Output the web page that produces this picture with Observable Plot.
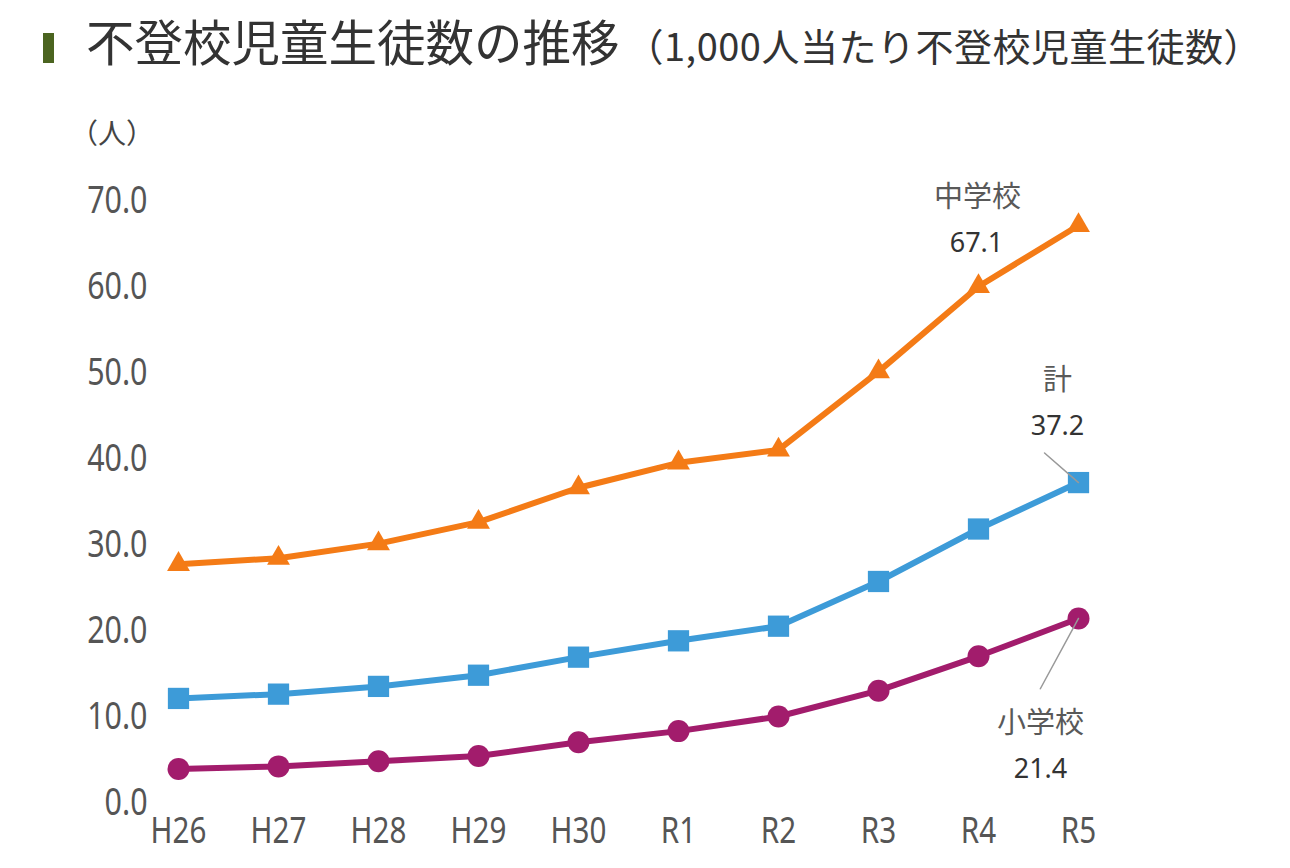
<!DOCTYPE html>
<html>
<head>
<meta charset="utf-8">
<script src="https://cdn.jsdelivr.net/npm/d3@7"></script>
<script src="https://cdn.jsdelivr.net/npm/@observablehq/plot@0.6"></script>
<style>
  html, body { margin: 0; padding: 0; background: #fff; }
  #page { position: relative; width: 1290px; height: 868px; overflow: hidden; font-family: "Noto Sans CJK JP", "Noto Sans", sans-serif; }
  #bar { position: absolute; left: 43px; top: 33px; width: 11px; height: 30px; background: #4b6420; }
  #title { position: absolute; left: 86px; top: 8px; font-size: 48.5px; color: #333; white-space: nowrap; line-height: 64px; }
  #title .sub { font-size: 38px; margin-left: 6px; letter-spacing: 0.5px; }
  #ylab { position: absolute; left: 70px; top: 112px; font-size: 28px; color: #444; }
  #chart { position: absolute; left: 0; top: 90px; }
</style>
</head>
<body>
<div id="page">
  <div id="bar"></div>
  <div id="title">不登校児童生徒数の推移<span class="sub">（1,000人当たり不登校児童生徒数）</span></div>
  <div id="ylab">（人）</div>
  <div id="chart"></div>
</div>
<script>
const years = ["H26","H27","H28","H29","H30","R1","R2","R3","R4","R5"];
const juniorHigh = [27.7, 28.4, 30.1, 32.6, 36.6, 39.5, 41.0, 50.1, 60.0, 67.1];
const total = [12.1, 12.6, 13.5, 14.8, 16.9, 18.8, 20.5, 25.7, 31.8, 37.2];
const elementary = [3.9, 4.2, 4.8, 5.4, 7.0, 8.3, 10.0, 13.0, 17.0, 21.4];
const yTicks = [0, 10, 20, 30, 40, 50, 60, 70];
const seriesNames = ["中学校", "計", "小学校"];

const rows = (vals) => years.map((yr, i) => ({year: yr, value: vals[i]}));
const jh = rows(juniorHigh), tt = rows(total), el = rows(elementary);
const last = (arr, name) => [{year: years[years.length - 1], value: arr[arr.length - 1], name}];

const leader = { draw(context, l) { context.moveTo(0, 0); context.lineTo(0, -l); } };

const plot = Plot.plot({
  width: 1290,
  height: 778,
  marginTop: 110,
  marginBottom: 66,
  marginLeft: 175,
  marginRight: 209,
  style: { background: "transparent", overflow: "visible" },
  x: { type: "point", domain: years, padding: 0 },
  y: { domain: [0, 70] },
  marks: [
    Plot.axisY({ ticks: yTicks, tickFormat: d => d.toFixed(1), tickSize: 0, tickPadding: 28, fontSize: 38, fill: "#555", label: null }),
    Plot.axisX({ tickSize: 0, tickPadding: 14, fontSize: 37, fill: "#555", label: null }),
    // lines
    Plot.line(jh, { x: "year", y: "value", stroke: "#f47b16", strokeWidth: 6 }),
    Plot.dot(jh, { x: "year", y: "value", symbol: "triangle", r: 8.5, fill: "#f47b16" }),
    Plot.line(tt, { x: "year", y: "value", stroke: "#3d9bd8", strokeWidth: 6 }),
    Plot.dot(tt, { x: "year", y: "value", symbol: "square", r: 12, fill: "#3d9bd8" }),
    Plot.line(el, { x: "year", y: "value", stroke: "#a21c6c", strokeWidth: 6 }),
    Plot.dot(el, { x: "year", y: "value", symbol: "circle", r: 11, fill: "#a21c6c" }),
    // leader lines
    Plot.vector(last(total, "計"), { x: "year", y: "value", length: 45, rotate: -49, anchor: "start", shape: leader, stroke: "#999", strokeWidth: 1.5 }),
    Plot.vector(last(elementary, "小学校"), { x: "year", y: "value", length: 80, rotate: 208.5, anchor: "start", shape: leader, stroke: "#999", strokeWidth: 1.5 }),
    // labels
    Plot.text(last(juniorHigh, seriesNames[0]), { x: "year", y: "value", text: "name", dx: -101, dy: -28, fontSize: 29, fill: "#595959", fontFamily: "Noto Sans CJK JP" }),
    Plot.text(last(juniorHigh, ""), { x: "year", y: "value", text: d => d.value.toFixed(1), dx: -102, dy: 18, fontSize: 27, fill: "#333", fontFamily: "Noto Sans" }),
    Plot.text(last(total, seriesNames[1]), { x: "year", y: "value", text: "name", dx: -21, dy: -102, fontSize: 29, fill: "#595959", fontFamily: "Noto Sans CJK JP" }),
    Plot.text(last(total, ""), { x: "year", y: "value", text: d => d.value.toFixed(1), dx: -21, dy: -56, fontSize: 27, fill: "#333", fontFamily: "Noto Sans" }),
    Plot.text(last(elementary, seriesNames[2]), { x: "year", y: "value", text: "name", dx: -38, dy: 105, fontSize: 29, fill: "#595959", fontFamily: "Noto Sans CJK JP" }),
    Plot.text(last(elementary, ""), { x: "year", y: "value", text: d => d.value.toFixed(1), dx: -38, dy: 151, fontSize: 27, fill: "#333", fontFamily: "Noto Sans" })
  ]
});
document.getElementById("chart").appendChild(plot);
// condensed look for axis tick labels
d3.select(plot).selectAll('g[aria-label="y-axis tick label"] text, g[aria-label="x-axis tick label"] text').each(function() {
  const w = this.getComputedTextLength();
  this.setAttribute("textLength", (w * 0.8).toFixed(1));
  this.setAttribute("lengthAdjust", "spacingAndGlyphs");
});
</script>
</body>
</html>
